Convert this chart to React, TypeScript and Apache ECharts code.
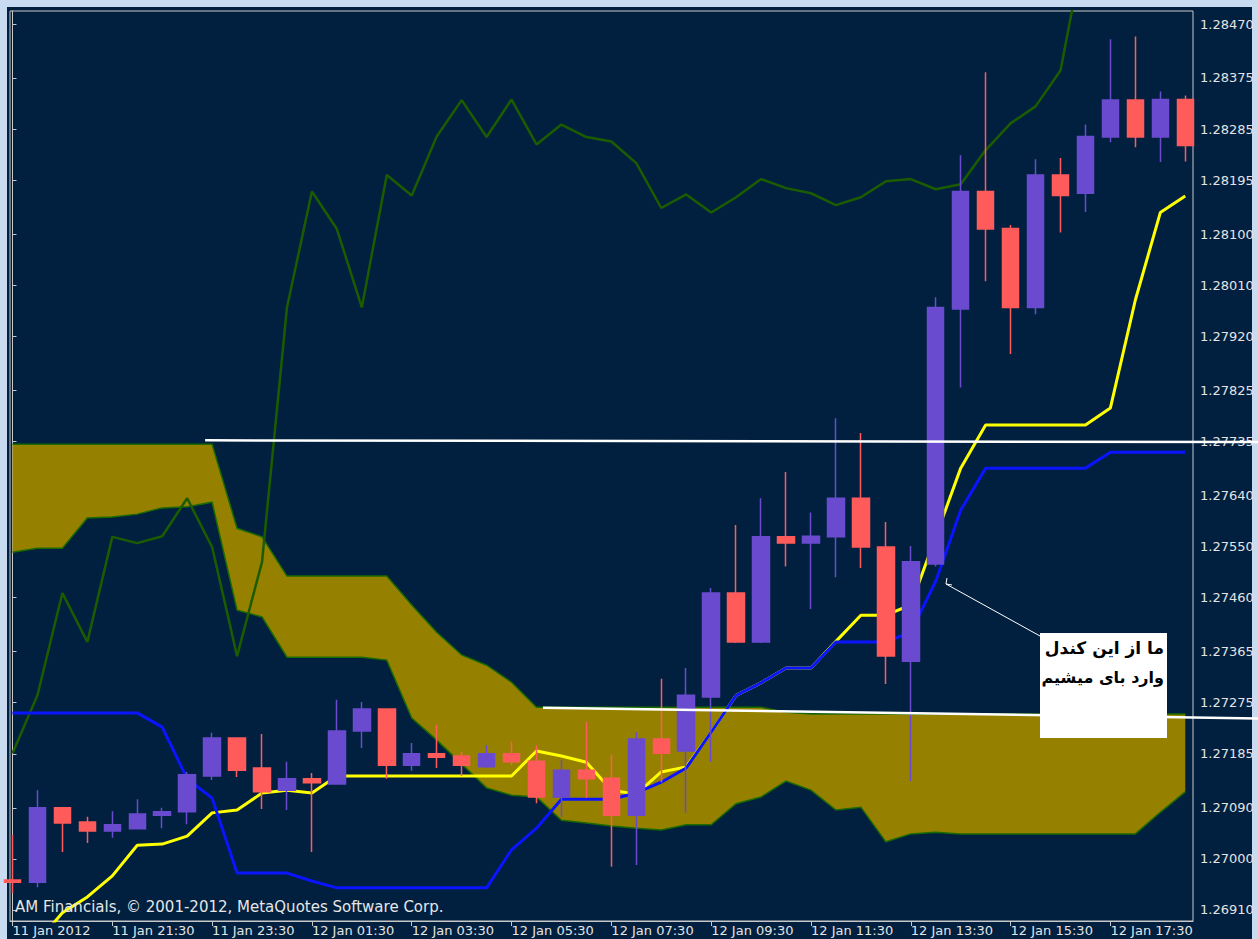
import React, { useEffect, useRef } from "react";
import * as echarts from "echarts";

// ---------- data (M30 bars, index 0 = 11 Jan 2012 19:30) ----------
const xTickIndex = [0, 4, 8, 12, 16, 20, 24, 28, 32, 36, 40, 44];
const xTickLabels = [
  "11 Jan 2012", "11 Jan 21:30", "11 Jan 23:30", "12 Jan 01:30", "12 Jan 03:30", "12 Jan 05:30",
  "12 Jan 07:30", "12 Jan 09:30", "12 Jan 11:30", "12 Jan 13:30", "12 Jan 15:30", "12 Jan 17:30",
];
const yTickValues = [
  1.2691, 1.27, 1.2709, 1.27185, 1.27275, 1.27365, 1.2746, 1.2755, 1.2764,
  1.27735, 1.27825, 1.2792, 1.2801, 1.281, 1.28195, 1.28285, 1.28375, 1.2847,
];

const opens = [1.26963,1.26959,1.27090,1.27065,1.27049,1.27053,1.27077,1.27083,1.27146,1.27213,1.27160,1.27121,1.27141,1.27132,1.27225,1.27264,1.27165,1.27185,1.27181,1.27162,1.27185,1.27172,1.27109,1.27156,1.27142,1.27077,1.27211,1.27190,1.27285,1.27468,1.27382,1.27567,1.27556,1.27567,1.27635,1.27549,1.27348,1.27519,1.27968,1.28175,1.28110,1.27971,1.28204,1.28172,1.28271,1.28336,1.28271,1.28337];
const closes = [1.26959,1.27090,1.27063,1.27049,1.27060,1.27079,1.27083,1.27148,1.27213,1.27156,1.27118,1.27141,1.27134,1.27225,1.27264,1.27165,1.27185,1.27179,1.27165,1.27185,1.27171,1.27109,1.27156,1.27141,1.27077,1.27211,1.27186,1.27288,1.27468,1.27382,1.27567,1.27556,1.27568,1.27635,1.27549,1.27357,1.27523,1.27971,1.28175,1.28109,1.27971,1.28204,1.28168,1.28272,1.28336,1.28271,1.28337,1.28256];
const lows = [1.26940,1.26950,1.27012,1.27028,1.27037,1.27052,1.27054,1.27061,1.27139,1.27144,1.27088,1.27086,1.27012,1.27131,1.27195,1.27141,1.27155,1.27160,1.27146,1.27160,1.27165,1.27098,1.27074,1.27107,1.26986,1.26989,1.27135,1.27081,1.27171,1.27380,1.27380,1.27515,1.27440,1.27496,1.27512,1.27308,1.27137,1.27515,1.27830,1.28017,1.27889,1.27959,1.28103,1.28139,1.28262,1.28253,1.28227,1.28228];
const highs = [1.27042,1.27121,1.27091,1.27074,1.27084,1.27105,1.27090,1.27153,1.27222,1.27214,1.27220,1.27171,1.27151,1.27280,1.27276,1.27265,1.27204,1.27236,1.27188,1.27200,1.27206,1.27200,1.27174,1.27241,1.27183,1.27223,1.27317,1.27336,1.27477,1.27588,1.27635,1.27681,1.27610,1.27776,1.27750,1.27593,1.27551,1.27989,1.28239,1.28385,1.28116,1.28232,1.28234,1.28293,1.28443,1.28448,1.28351,1.28344];

const tenkan = [1.26831,1.26854,1.26905,1.26933,1.26970,1.27024,1.27026,1.27040,1.27081,1.27086,1.27116,1.27121,1.27116,1.27146,1.27146,1.27146,1.27146,1.27146,1.27146,1.27146,1.27146,1.27190,1.27181,1.27170,1.27121,1.27114,1.27153,1.27162,1.27223,1.27288,1.27310,1.27336,1.27336,1.27383,1.27429,1.27429,1.27447,1.27567,1.27688,1.27764,1.27764,1.27764,1.27764,1.27764,1.27794,1.27984,1.28138,1.28167];
const kijun = [1.27257,1.27257,1.27257,1.27257,1.27257,1.27257,1.27232,1.27141,1.27107,1.26975,1.26975,1.26975,1.26961,1.26949,1.26949,1.26949,1.26949,1.26949,1.26949,1.26949,1.27016,1.27054,1.27105,1.27105,1.27105,1.27116,1.27135,1.27160,1.27223,1.27288,1.27310,1.27336,1.27336,1.27382,1.27382,1.27382,1.27399,1.27489,1.27614,1.27688,1.27688,1.27688,1.27688,1.27688,1.27716,1.27716,1.27716,1.27716];
const chikou = [1.27186,1.27288,1.27468,1.27382,1.27567,1.27556,1.27568,1.27635,1.27549,1.27357,1.27523,1.27971,1.28175,1.28109,1.27971,1.28204,1.28168,1.28272,1.28336,1.28271,1.28337,1.28258,1.28293,1.28271,1.28263,1.28225,1.28146,1.28170,1.28138,1.28165,1.28197,1.28181,1.28172,1.28151,1.28165,1.28193,1.28197,1.28179,1.28188,1.28248,1.28295,1.28325,1.28388,1.28617];
const kumoTop = [1.27730,1.27730,1.27730,1.27730,1.27730,1.27730,1.27730,1.27730,1.27730,1.27582,1.27567,1.27498,1.27498,1.27498,1.27498,1.27498,1.27447,1.27399,1.27359,1.27341,1.27311,1.27267,1.27267,1.27267,1.27267,1.27267,1.27267,1.27267,1.27267,1.27267,1.27267,1.27258,1.27255,1.27255,1.27255,1.27255,1.27255,1.27255,1.27255,1.27255,1.27255,1.27255,1.27255,1.27255,1.27255,1.27255,1.27255,1.27255];
const kumoBottom = [1.27540,1.27547,1.27547,1.27600,1.27602,1.27607,1.27618,1.27620,1.27628,1.27438,1.27426,1.27355,1.27355,1.27355,1.27355,1.27350,1.27248,1.27209,1.27167,1.27125,1.27112,1.27109,1.27068,1.27063,1.27058,1.27054,1.27051,1.27060,1.27060,1.27097,1.27109,1.27137,1.27121,1.27086,1.27091,1.27030,1.27044,1.27047,1.27044,1.27044,1.27044,1.27044,1.27044,1.27044,1.27044,1.27044,1.27082,1.27118];

// trend lines (rays to the right), in [bar index, price]
const trendLines = [
  { from: [7.72, 1.27737], to: [47.29, 1.27734] },
  { from: [21.26, 1.27266], to: [47.29, 1.27249] },
];
const noteTarget = [37.41, 1.27484];
const noteLines = ["ما از این کندل", "وارد بای میشیم"];
const noteSizes = [17, 16];
const copyright = "AM Financials, © 2001-2012, MetaQuotes Software Corp.";

const X_MIN = -0.1;
const X_MAX = 47.31;
const Y_MIN = 1.268906;
const Y_MAX = 1.284929;

const DARK = "#01203f";
const FRAME = "#c9dbf1";
const AXIS = "#c8c8c8";
const TEXT = "#e4e4e4";
const BULL = "#6a4bcf";
const BEAR = "#ff5b5b";
const GOLD = "#968000";
const EDGE = "#1a6a00";

export default function App() {
  const ref = useRef<HTMLDivElement>(null);
  useEffect(() => {
    const chart = echarts.init(ref.current!, null, { renderer: "svg" });
    const candleData = opens.map((o, i) => [i, o, closes[i], lows[i], highs[i]]);
    chart.setOption({
      animation: false,
      backgroundColor: "transparent",
      grid: {
        left: 10, right: 65, top: 11, bottom: 18,
        show: true, borderColor: AXIS, borderWidth: 1, backgroundColor: DARK,
        outerBoundsMode: "none",
      },
      xAxis: {
        type: "value", min: X_MIN, max: X_MAX,
        axisLine: { show: true, onZero: false, lineStyle: { color: AXIS } },
        axisTick: { show: true, customValues: xTickIndex, length: 5, lineStyle: { color: AXIS } },
        axisLabel: {
          customValues: xTickIndex,
          formatter: (v: number) => xTickLabels[xTickIndex.indexOf(Math.round(v))] ?? "",
          align: "left", color: TEXT, fontSize: 13, fontFamily: "DejaVu Sans", margin: 3,
        },
        splitLine: { show: false },
      },
      yAxis: {
        type: "value", position: "right", min: Y_MIN, max: Y_MAX, scale: true,
        axisLine: { show: true, lineStyle: { color: AXIS } },
        axisTick: { show: true, customValues: yTickValues, length: 4, lineStyle: { color: AXIS } },
        axisLabel: {
          customValues: yTickValues,
          formatter: (v: number) => v.toFixed(5),
          color: TEXT, fontSize: 13, fontFamily: "DejaVu Sans", margin: 7,
        },
        splitLine: { show: false },
      },
      series: [
        {
          name: "kumo", type: "custom", z: 1, clip: true,
          data: [[0, kumoTop[0]]],
          renderItem: (_params: any, api: any) => {
            const top = kumoTop.map((v, i) => api.coord([i, v]));
            const bot = kumoBottom.map((v, i) => api.coord([i, v]));
            return {
              type: "group",
              children: [
                { type: "polygon", shape: { points: top.concat(bot.slice().reverse()) }, style: { fill: GOLD } },
                { type: "polyline", shape: { points: top }, style: { stroke: EDGE, lineWidth: 1.5, fill: null } },
                { type: "polyline", shape: { points: bot }, style: { stroke: EDGE, lineWidth: 1.5, fill: null } },
              ],
            };
          },
        },
        {
          name: "chikou", type: "line", symbol: "none", z: 2,
          data: chikou.map((v, i) => [i, v]),
          lineStyle: { color: "#1c5c00", width: 2.5 },
        },
        {
          name: "tenkan", type: "line", symbol: "none", z: 3,
          data: tenkan.map((v, i) => [i, v]),
          lineStyle: { color: "#ffff00", width: 3 },
        },
        {
          name: "kijun", type: "line", symbol: "none", z: 3,
          data: kijun.map((v, i) => [i, v]),
          lineStyle: { color: "#0a14ff", width: 3 },
        },
        {
          name: "price", type: "candlestick", z: 5,
          data: candleData,
          encode: { x: 0, y: [1, 2, 3, 4] },
          barWidth: 17,
          itemStyle: {
            color: BULL, color0: BEAR, borderColor: BULL, borderColor0: BEAR, borderWidth: 1.5,
          },
        },
      ],
    });

    const toPx = (p: number[]) => chart.convertToPixel({ gridIndex: 0 }, p) as number[];
    const graphics: any[] = [];
    trendLines.forEach((t) => {
      const a = toPx(t.from);
      const b = toPx(t.to);
      const endX = 1258;
      const endY = a[1] + ((b[1] - a[1]) * (endX - a[0])) / (b[0] - a[0]);
      graphics.push({
        type: "line", z: 100,
        shape: { x1: a[0], y1: a[1], x2: endX, y2: endY },
        style: { stroke: "#ffffff", lineWidth: 2.5 },
      });
    });
    const tip = toPx(noteTarget);
    const boxX = 1040, boxY = 633, boxW = 127, boxH = 105;
    graphics.push({
      type: "line", z: 100,
      shape: { x1: tip[0], y1: tip[1], x2: boxX, y2: boxY + 3 },
      style: { stroke: "#ffffff", lineWidth: 1 },
    });
    graphics.push({
      type: "polyline", z: 100,
      shape: { points: [[tip[0] + 1, tip[1] - 6], [tip[0], tip[1]], [tip[0] + 6, tip[1] + 1]] },
      style: { stroke: "#ffffff", lineWidth: 1, fill: "none" },
    });
    graphics.push({
      type: "rect", z: 100,
      shape: { x: boxX, y: boxY, width: boxW, height: boxH },
      style: { fill: "#ffffff" },
    });
    noteLines.forEach((t, k) => {
      graphics.push({
        type: "text", z: 101,
        x: 1164, y: 648 + k * 29,
        style: {
          text: t, fill: "#000000", align: "right", verticalAlign: "middle",
          font: `bold ${noteSizes[k]}px 'DejaVu Sans'`,
        },
      });
    });
    graphics.push({
      type: "text", z: 100,
      x: 15, y: 907,
      style: {
        text: copyright, fill: "#e6e6e6", align: "left", verticalAlign: "middle",
        font: "15px 'DejaVu Sans'",
      },
    });
    chart.setOption({ graphic: graphics });

    return () => chart.dispose();
  }, []);

  return (
    <div style={{ position: "fixed", left: 0, top: 0, width: 1258, height: 939, background: FRAME, overflow: "hidden" }}>
      <div style={{ position: "absolute", left: 7, top: 7, width: 1245, height: 932, background: DARK }} />
      <div ref={ref} style={{ position: "absolute", left: 0, top: 0, width: 1258, height: 939 }} />
    </div>
  );
}
